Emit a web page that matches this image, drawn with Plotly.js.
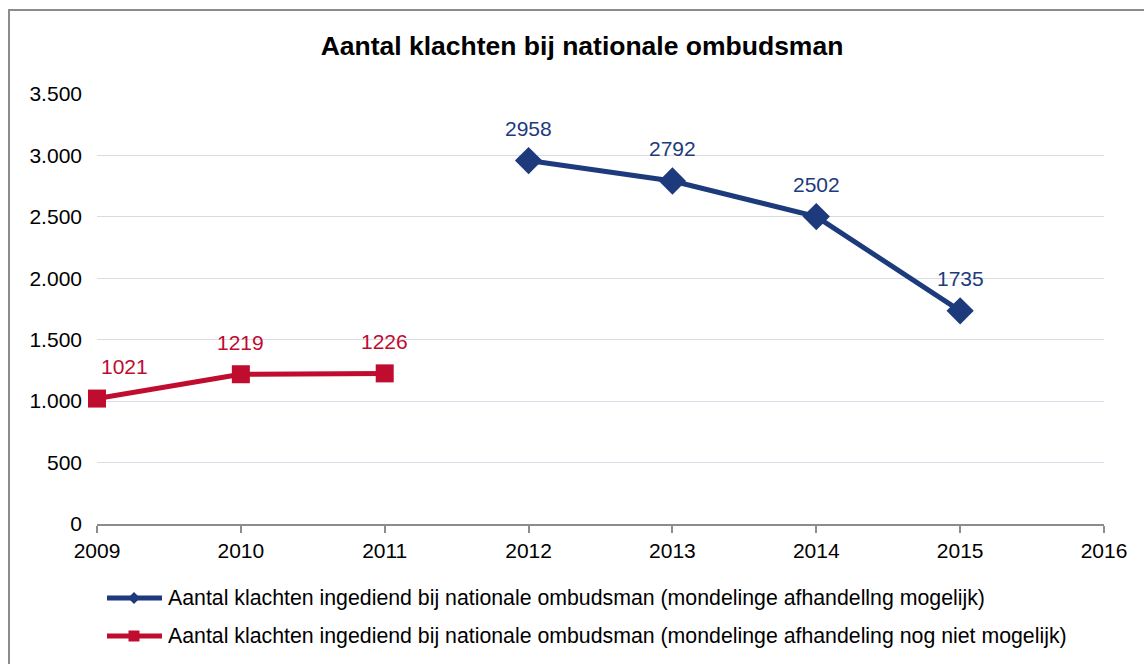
<!DOCTYPE html>
<html>
<head>
<meta charset="utf-8">
<script src="https://cdn.plot.ly/plotly-3.0.1.min.js"></script>
<style>
html,body{margin:0;padding:0;background:#fff;}
#chart{position:absolute;left:0;top:0;width:1144px;height:664px;}
#frame{position:absolute;left:8px;top:9px;width:1200px;height:700px;border:2px solid #8c8c8c;pointer-events:none;}
</style>
</head>
<body>
<div id="chart"></div>
<div id="frame"></div>
<script>
const chartTitle = "Aantal klachten bij nationale ombudsman";
const yearsBlue = [2012, 2013, 2014, 2015];
const valuesBlue = [2958, 2792, 2502, 1735];
const nameBlue = "Aantal klachten ingediend bij nationale ombudsman (mondelinge afhandellng mogelijk)";
const yearsRed = [2009, 2010, 2011];
const valuesRed = [1021, 1219, 1226];
const nameRed = "Aantal klachten ingediend bij nationale ombudsman (mondelinge afhandeling nog niet mogelijk)";
const xTicks = [2009, 2010, 2011, 2012, 2013, 2014, 2015, 2016];
const yTicks = [0, 500, 1000, 1500, 2000, 2500, 3000, 3500];

const blue = "#1d3b7c";
const red = "#c00c2f";
const font = "Liberation Sans, Arial, sans-serif";
const FS = 21;

// plot area geometry (px) for converting legend layout positions
const L = 97, R = 1104, T = 94, B = 524;
const px = v => (v - L) / (R - L);
const py = v => (B - v) / (B - T);

const traces = [
  {
    x: yearsBlue, y: valuesBlue, name: nameBlue, type: "scatter", mode: "lines+markers",
    line: {color: blue, width: 5}, marker: {symbol: "diamond", size: 21, color: blue},
    cliponaxis: false, showlegend: false
  },
  {
    x: yearsRed, y: valuesRed, name: nameRed, type: "scatter", mode: "lines+markers",
    line: {color: red, width: 5}, marker: {symbol: "square", size: 18, color: red},
    cliponaxis: false, showlegend: false
  }
];

const annotations = [];
function addLabels(xs, ys, color) {
  xs.forEach((x, i) => {
    annotations.push({
      x: x, y: ys[i], xref: "x", yref: "y", text: String(ys[i]), showarrow: false,
      yshift: 32, xshift: (x === xTicks[0]) ? 27 : 0,
      font: {family: font, size: FS, color: color}
    });
  });
}
addLabels(yearsBlue, valuesBlue, blue);
addLabels(yearsRed, valuesRed, red);

// manual legend
const shapes = [];
const legendItems = [
  {name: nameBlue, color: blue, sym: "diamond", yy: 598},
  {name: nameRed, color: red, sym: "square", yy: 636}
];
legendItems.forEach(it => {
  shapes.push({type: "line", xref: "paper", yref: "paper",
    x0: px(107), x1: px(162), y0: py(it.yy), y1: py(it.yy),
    line: {color: it.color, width: 5}});
  if (it.sym === "diamond") {
    const cx = 134, cy = it.yy, r = 6;
    shapes.push({type: "path", xref: "paper", yref: "paper",
      path: `M ${px(cx - r)} ${py(cy)} L ${px(cx)} ${py(cy - r)} L ${px(cx + r)} ${py(cy)} L ${px(cx)} ${py(cy + r)} Z`,
      fillcolor: it.color, line: {color: it.color, width: 0}});
  } else {
    const cx = 134, cy = it.yy, r = 5.5;
    shapes.push({type: "rect", xref: "paper", yref: "paper",
      x0: px(cx - r), x1: px(cx + r), y0: py(cy + r), y1: py(cy - r),
      fillcolor: it.color, line: {color: it.color, width: 0}});
  }
  annotations.push({xref: "paper", yref: "paper", x: px(166), y: py(it.yy),
    xanchor: "left", yanchor: "middle", text: it.name, showarrow: false,
    font: {family: font, size: 21.3, color: "#000"}});
});

const layout = {
  width: 1144, height: 664,
  margin: {l: L, r: 1144 - R, t: T, b: 664 - B, autoexpand: false},
  paper_bgcolor: "rgba(0,0,0,0)", plot_bgcolor: "rgba(0,0,0,0)",
  separators: ",.",
  font: {family: font, size: FS, color: "#000"},
  title: {text: "<b>" + chartTitle + "</b>", x: 582 / 1144, xref: "container", xanchor: "center",
          y: 1 - 46 / 664, yref: "container", yanchor: "middle",
          font: {family: font, size: 26.5, color: "#000"}},
  xaxis: {
    range: [2009, 2016], tickvals: xTicks, ticktext: xTicks.map(String),
    showgrid: false, zeroline: false, showline: true, linecolor: "#8c8c8c", linewidth: 2,
    ticks: "outside", ticklen: 7, tickcolor: "#8c8c8c", tickwidth: 2, tickangle: 0,
    tickfont: {family: font, size: FS, color: "#000"}, fixedrange: true, automargin: false
  },
  yaxis: {
    range: [0, 3500], tickvals: yTicks, tickformat: ",d",
    showgrid: true, gridcolor: "#d9dce6", gridwidth: 1, zeroline: false, showline: false,
    ticks: "", ticklabelstandoff: 14,
    tickfont: {family: font, size: FS, color: "#000"}, fixedrange: true, automargin: false
  },
  showlegend: false,
  shapes: shapes,
  annotations: annotations
};

Plotly.newPlot("chart", traces, layout, {displayModeBar: false, staticPlot: true});
</script>
</body>
</html>
